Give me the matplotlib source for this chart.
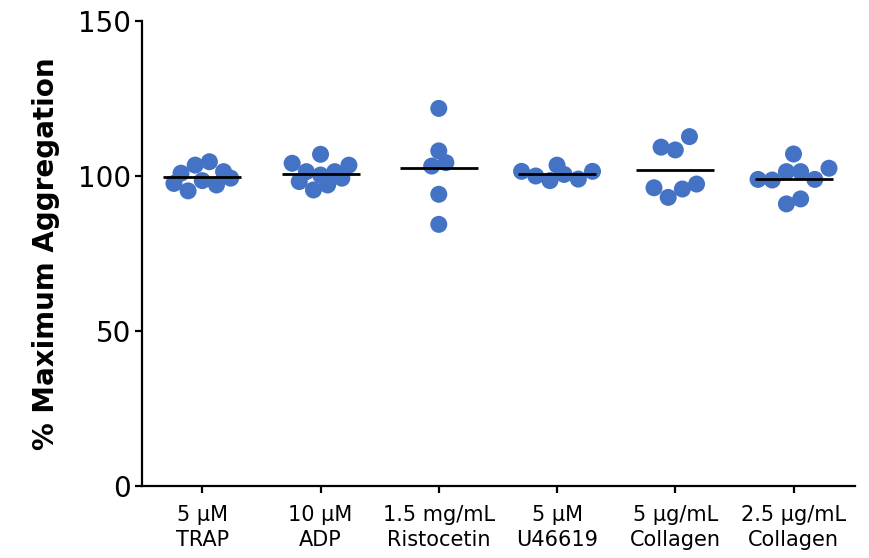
import numpy as np
import matplotlib
matplotlib.use('Agg')
import matplotlib.pyplot as plt

# agonist panel, % of maximum aggregation (values listed left to right as plotted)
agonists = ['5 µM\nTRAP', '10 µM\nADP', '1.5 mg/mL\nRistocetin',
            '5 µM\nU46619', '5 µg/mL\nCollagen', '2.5 µg/mL\nCollagen']
trap = [100.9, 97.6, 103.5, 95.2, 98.5, 97.1, 104.6, 99.3, 101.4]
adp = [104.1, 101.4, 98.2, 107.0, 95.5, 100.3, 97.1, 99.3, 101.4, 103.5]
ristocetin = [108.1, 121.8, 103.2, 94.1, 84.4, 104.3]
u46619 = [101.5, 100.0, 98.5, 100.5, 99.0, 103.5, 101.5]
collagen_5 = [96.2, 109.3, 93.1, 108.4, 95.8, 112.7, 97.4]
collagen_25 = [107.1, 98.9, 98.7, 101.4, 91.0, 101.4, 92.6, 98.9, 102.5]
groups = [trap, adp, ristocetin, u46619, collagen_5, collagen_25]

DOT = '#4472C4'
ROW_BIN = 4.5      # values closer than this share a row
DX = 0.12          # horizontal step between dots in a row (category units)
HALF = 0.33        # half width of the mean bar


def row_offsets(vals):
    """Spread values into flat rows, GraphPad style."""
    vals = np.asarray(vals, dtype=float)
    order = np.argsort(vals, kind='stable')
    offs = np.zeros(len(vals))
    rows, cur, start = [], [], None
    for i in order:
        if start is None or vals[i] - start > ROW_BIN:
            if cur:
                rows.append(cur)
            cur, start = [i], vals[i]
        else:
            cur.append(i)
    if cur:
        rows.append(cur)
    for r in rows:
        r = sorted(r)
        n = len(r)
        for k, i in enumerate(r):
            offs[i] = (k - (n - 1) / 2) * DX
    return offs


fig = plt.figure(figsize=(8.69, 5.58), dpi=100)
ax = fig.add_axes([0.1634, 0.129, 0.8205, 0.8334])

for pos, vals in enumerate(groups):
    x = pos + row_offsets(vals)
    ax.scatter(x, vals, s=150, color=DOT, edgecolors='none', zorder=2)
    m = np.mean(vals)
    ax.plot([pos - HALF, pos + HALF], [m, m], color='black', lw=2.0,
            solid_capstyle='butt', zorder=3)

ax.set_xlim(-0.51, 5.52)
ax.set_ylim(0, 150)
ax.set_yticks([0, 50, 100, 150])
ax.set_xticks(range(len(agonists)))
ax.set_xticklabels(agonists, fontsize=15, family='DejaVu Sans', linespacing=1.3)
for lab in ax.get_yticklabels():
    lab.set_fontsize(20)

ax.spines['top'].set_visible(False)
ax.spines['right'].set_visible(False)
for s in ('left', 'bottom'):
    ax.spines[s].set_linewidth(1.6)
ax.tick_params(axis='both', width=1.6, length=5, direction='out')
ax.tick_params(axis='y', pad=3)
ax.tick_params(axis='x', pad=9)

ax.set_ylabel('% Maximum Aggregation', fontsize=20, fontweight='bold', labelpad=13)

fig.savefig('out.png', dpi=100)
